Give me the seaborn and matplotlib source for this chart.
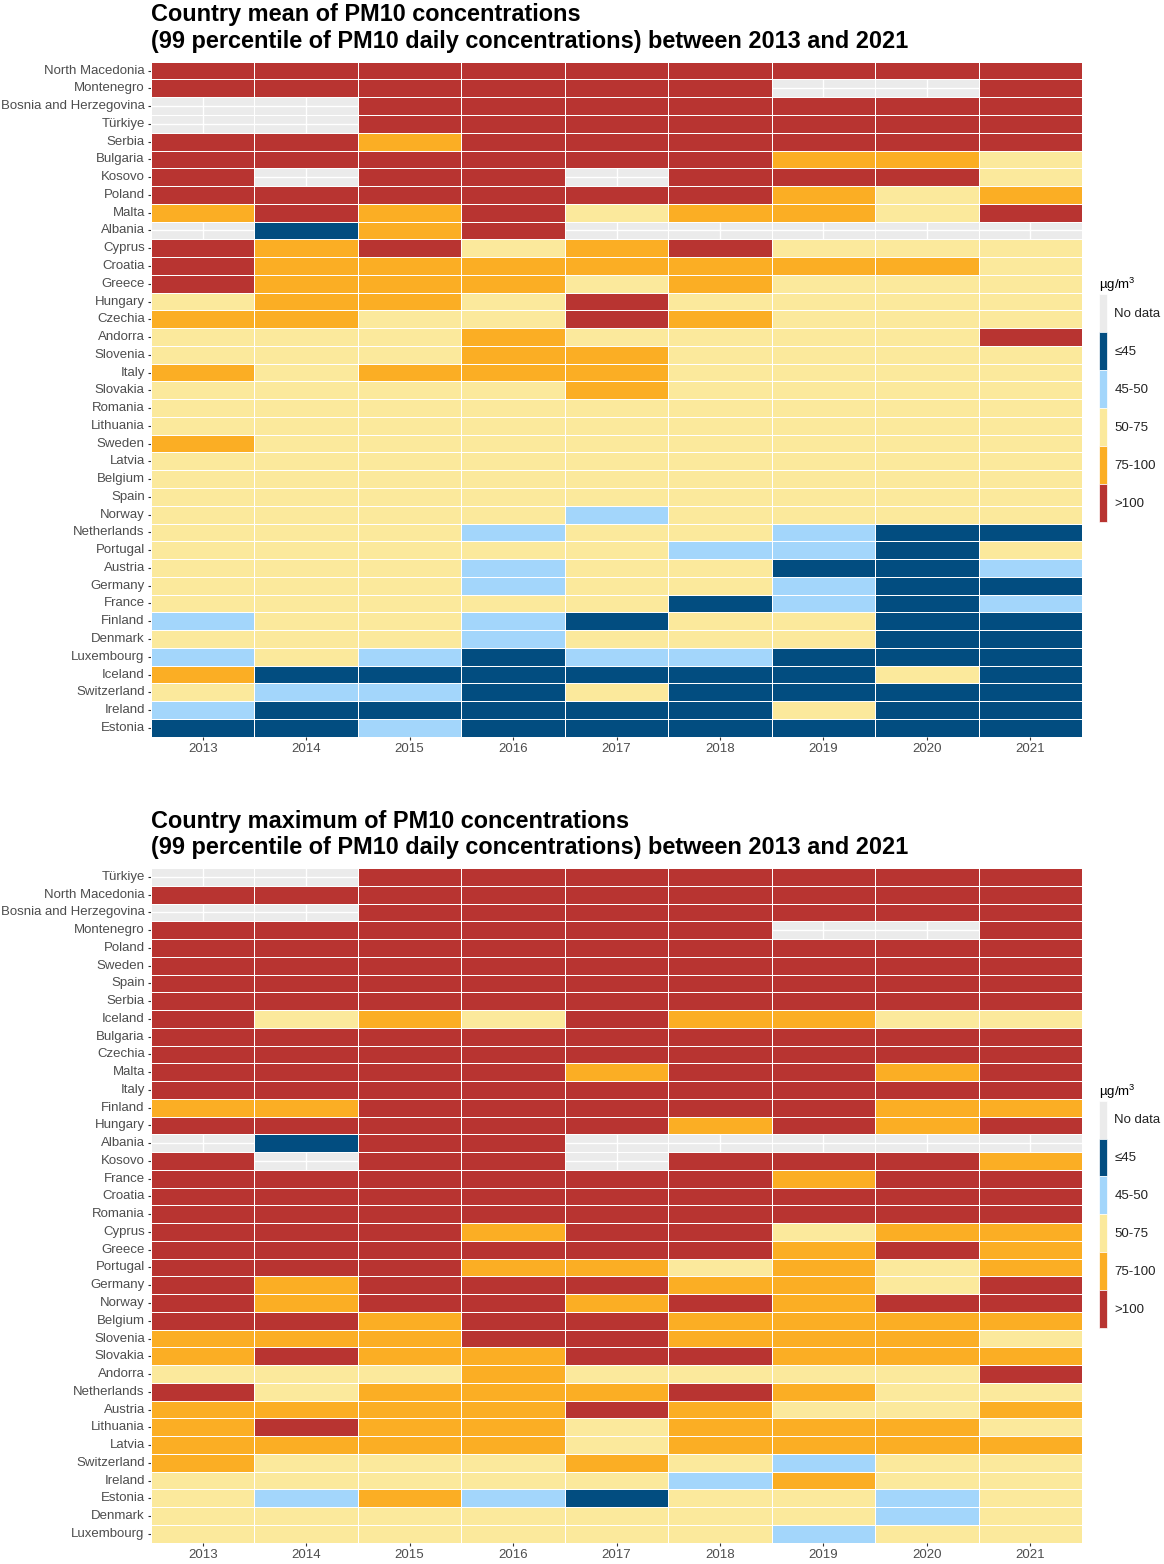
import numpy as np
import pandas as pd
import seaborn as sns
import matplotlib as mpt
import matplotlib.pyplot as plt
from matplotlib.colors import ListedColormap
from matplotlib.patches import Patch

mpt.use('Agg')
plt.rcParams['font.family'] = ['Liberation Sans', 'DejaVu Sans']
plt.rcParams['mathtext.fontset'] = 'custom'
plt.rcParams['mathtext.rm'] = 'Liberation Sans'
plt.rcParams['mathtext.it'] = 'Liberation Sans'

years = [2013, 2014, 2015, 2016, 2017, 2018, 2019, 2020, 2021]

# classes: '-' no data, D <=45, L 45-50, Y 50-75, O 75-100, R >100
class_labels = ['No data', '≤45', '45-50', '50-75', '75-100', '>100']
class_colors = ['#EBEBEB', '#024D80', '#A3D6FB', '#FBE99C', '#FBAE24', '#B83431']
code_to_class = {'D': 1, 'L': 2, 'Y': 3, 'O': 4, 'R': 5}

# 国家均值
mean_countries = ['North Macedonia', 'Montenegro', 'Bosnia and Herzegovina', 'Türkiye', 'Serbia',
                  'Bulgaria', 'Kosovo', 'Poland', 'Malta', 'Albania', 'Cyprus', 'Croatia', 'Greece',
                  'Hungary', 'Czechia', 'Andorra', 'Slovenia', 'Italy', 'Slovakia', 'Romania',
                  'Lithuania', 'Sweden', 'Latvia', 'Belgium', 'Spain', 'Norway', 'Netherlands',
                  'Portugal', 'Austria', 'Germany', 'France', 'Finland', 'Denmark', 'Luxembourg',
                  'Iceland', 'Switzerland', 'Ireland', 'Estonia']
mean_codes = ['RRRRRRRRR', 'RRRRRR--R', '--RRRRRRR', '--RRRRRRR', 'RRORRRRRR',
              'RRRRRROOY', 'R-RR-RRRY', 'RRRRRROYO', 'ORORYOOYR', '-DOR-----',
              'RORYORYYY', 'ROOOOOOOY', 'ROOOYOYYY', 'YOOYRYYYY', 'OOYYROYYY',
              'YYYOYYYYR', 'YYYOOYYYY', 'OYOOOYYYY', 'YYYYOYYYY', 'YYYYYYYYY',
              'YYYYYYYYY', 'OYYYYYYYY', 'YYYYYYYYY', 'YYYYYYYYY', 'YYYYYYYYY',
              'YYYYLYYYY', 'YYYLYYLDD', 'YYYYYLLDY', 'YYYLYYDDL', 'YYYLYYLDD',
              'YYYYYDLDL', 'LYYLDYYDD', 'YYYLYYYDD', 'LYLDLLDDD', 'ODDDDDDYD',
              'YLLDYDDDD', 'LDDDDDYDD', 'DDLDDDDDD']

# 国家最大值
max_countries = ['Türkiye', 'North Macedonia', 'Bosnia and Herzegovina', 'Montenegro', 'Poland',
                 'Sweden', 'Spain', 'Serbia', 'Iceland', 'Bulgaria', 'Czechia', 'Malta', 'Italy',
                 'Finland', 'Hungary', 'Albania', 'Kosovo', 'France', 'Croatia', 'Romania',
                 'Cyprus', 'Greece', 'Portugal', 'Germany', 'Norway', 'Belgium', 'Slovenia',
                 'Slovakia', 'Andorra', 'Netherlands', 'Austria', 'Lithuania', 'Latvia',
                 'Switzerland', 'Ireland', 'Estonia', 'Denmark', 'Luxembourg']
max_codes = ['--RRRRRRR', 'RRRRRRRRR', '--RRRRRRR', 'RRRRRR--R', 'RRRRRRRRR',
             'RRRRRRRRR', 'RRRRRRRRR', 'RRRRRRRRR', 'RYOYROOYY', 'RRRRRRRRR',
             'RRRRRRRRR', 'RRRRORROR', 'RRRRRRRRR', 'OORRRRROO', 'RRRRRORO R'.replace(' ', ''),
             '-DRR-----', 'R-RR-RRRO', 'RRRRRRORR', 'RRRRRRRRR', 'RRRRRRRRR',
             'RRRORRYOO', 'RRRRRRORO', 'RRROOYOYO', 'RORRROOYR', 'RORRORORR',
             'RRORROOOO', 'OOORROOOY', 'OROORROOO', 'YYYOYYYYR', 'RYOOOROYY',
             'OOOOROYYO', 'OROOYOOOY', 'OOOOYOOOO', 'OYYYOYLYY', 'YYYYYLOYY',
             'YLOLDYYLY', 'YYYYYYYLY', 'YYYYYYLYY']

titles = ['Country mean of PM10 concentrations\n'
          '(99 percentile of PM10 daily concentrations) between 2013 and 2021',
          'Country maximum of PM10 concentrations\n'
          '(99 percentile of PM10 daily concentrations) between 2013 and 2021']


def to_frame(countries, codes):
    vals = [[code_to_class.get(c, np.nan) for c in row] for row in codes]
    return pd.DataFrame(vals, index=countries, columns=years, dtype=float)


fig = plt.figure(figsize=(11.64, 15.64), dpi=100)
W, H = 1164.0, 1564.0
panels = [(to_frame(mean_countries, mean_codes), 61.7, 736.7),
          (to_frame(max_countries, max_codes), 868.0, 1542.7)]
cmap = ListedColormap(class_colors[1:])

for (df, top, bottom), title in zip(panels, titles):
    ax = fig.add_axes([151 / W, 1 - bottom / H, 931 / W, (bottom - top) / H])
    ax.set_facecolor('#EBEBEB')
    sns.heatmap(df, cmap=cmap, vmin=0.5, vmax=5.5, cbar=False,
                linewidths=0.6, linecolor='white', ax=ax)
    ax.grid(True, color='white', linewidth=1.0)
    ax.set_axisbelow(True)
    ax.set_xlabel('')
    ax.set_ylabel('')
    ax.tick_params(axis='both', length=2.5, width=0.8, color='#333333',
                   labelsize=9.5, labelcolor='#4D4D4D', pad=2)
    ax.tick_params(axis='y', labelrotation=0)
    ax.tick_params(axis='x', labelrotation=0)
    ax.set_title(title, loc='left', fontweight='bold', fontsize=16.9,
                 pad=10, linespacing=1.2, color='black')

    handles = [Patch(facecolor=c, edgecolor='white', linewidth=0.5) for c in class_colors]
    leg = ax.legend(handles, class_labels, title='µg/m$^3$', loc='center left',
                    bbox_to_anchor=(1 + 10 / 931, 0.5), frameon=False, fontsize=9.5,
                    title_fontsize=9.5, handlelength=0.6, handleheight=4.05,
                    labelspacing=0, handletextpad=0.6, borderpad=0, alignment='left')
    for t in leg.get_texts():
        t.set_color('#222222')

plt.savefig('out.png', dpi=100)
